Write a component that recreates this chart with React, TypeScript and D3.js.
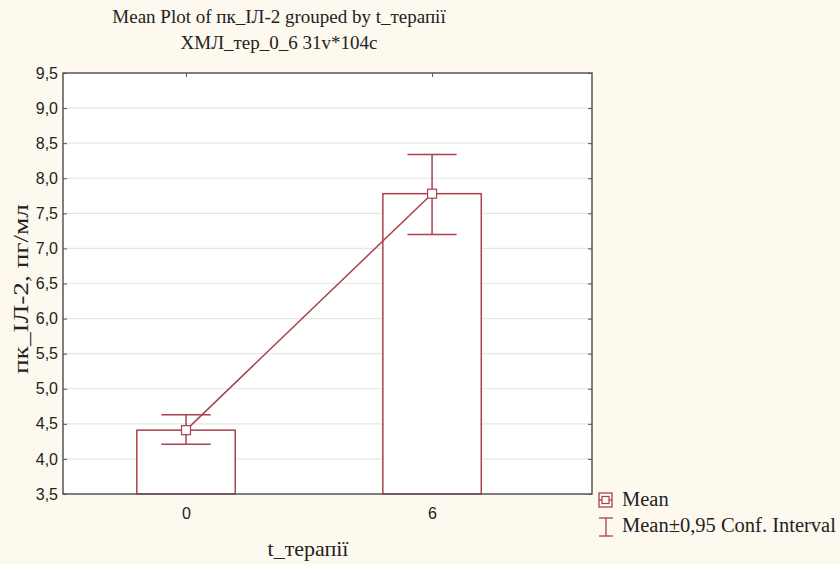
import * as d3 from 'd3';
import React, { useRef, useEffect } from 'react';

// data
const categories = ['0', '6'];
const means = [4.41, 7.78];
const ciLower = [4.21, 7.2];
const ciUpper = [4.63, 8.34];
const yTicks = [3.5, 4.0, 4.5, 5.0, 5.5, 6.0, 6.5, 7.0, 7.5, 8.0, 8.5, 9.0, 9.5];

const RED = '#a8424c';
const BG = '#fdf9ef';

function MeanPlot({ width, height }) {
    const ref = useRef(null);

    useEffect(() => {
        draw();
    }, []);

    const draw = () => {
        const margin = { top: 73, right: 248, bottom: 70, left: 63 };
        const w = width - margin.left - margin.right;
        const h = height - margin.top - margin.bottom;

        const svg = d3.select(ref.current);
        svg.selectAll('*').remove();

        svg.append('rect')
            .attr('width', width)
            .attr('height', height)
            .attr('fill', BG);

        const g = svg.append('g')
            .attr('transform', `translate(${margin.left}, ${margin.top})`);

        // Scales
        const xScale = d3.scaleLinear()
            .domain([-0.5, 1.65])
            .range([0, w]);

        const yScale = d3.scaleLinear()
            .domain([3.5, 9.5])
            .range([h, 0]);

        const fmt = d => d3.format('.1f')(d).replace('.', ',');
        const sans = '"Liberation Sans", Arial, sans-serif';
        const serif = '"Liberation Serif", "Times New Roman", serif';

        g.append('rect')
            .attr('width', w)
            .attr('height', h)
            .attr('fill', '#fff');

        // grid
        g.append('g')
            .selectAll('line')
            .data(yTicks.slice(1, -1))
            .enter()
            .append('line')
            .attr('x1', 0)
            .attr('x2', w)
            .attr('y1', d => yScale(d))
            .attr('y2', d => yScale(d))
            .attr('stroke', '#e6e6e6')
            .attr('stroke-width', 1.2);

        // axes
        const yAxis = d3.axisLeft(yScale)
            .tickValues(yTicks)
            .tickFormat(fmt)
            .tickSize(-4)
            .tickPadding(5);
        const yAxisDraw = g.append('g').call(yAxis)
            .attr('font-family', sans)
            .attr('font-size', 16);
        yAxisDraw.select('.domain').remove();
        yAxisDraw.selectAll('text').attr('fill', '#222');
        yAxisDraw.selectAll('line').attr('stroke', '#555');

        const yAxisRight = d3.axisRight(yScale)
            .tickValues(yTicks)
            .tickFormat(() => '')
            .tickSize(-4);
        const yr = g.append('g').attr('transform', `translate(${w},0)`).call(yAxisRight);
        yr.select('.domain').remove();
        yr.selectAll('line').attr('stroke', '#555');

        const xAxis = d3.axisBottom(xScale)
            .tickValues([0, 1])
            .tickFormat(i => categories[i])
            .tickSize(-4)
            .tickPadding(14);
        const xAxisDraw = g.append('g').attr('transform', `translate(0,${h})`).call(xAxis)
            .attr('font-family', sans)
            .attr('font-size', 16);
        xAxisDraw.select('.domain').remove();
        xAxisDraw.selectAll('text').attr('fill', '#222');
        xAxisDraw.selectAll('line').attr('stroke', '#555');

        const xTop = d3.axisTop(xScale)
            .tickValues([0, 1])
            .tickFormat(() => '')
            .tickSize(-4);
        const xt = g.append('g').call(xTop);
        xt.select('.domain').remove();
        xt.selectAll('line').attr('stroke', '#555');

        // bars
        const barW = xScale(0.2) - xScale(-0.2);
        g.selectAll('.bar')
            .data(means)
            .enter()
            .append('rect')
            .attr('class', 'bar')
            .attr('x', (d, i) => xScale(i) - barW / 2)
            .attr('y', d => yScale(d))
            .attr('width', barW)
            .attr('height', d => h - yScale(d))
            .attr('fill', '#fff')
            .attr('stroke', RED)
            .attr('stroke-width', 1.5);

        // error bars
        const capW = xScale(0.1) - xScale(-0.1);
        const err = g.selectAll('.err')
            .data(means.map((m, i) => ({ i, lo: ciLower[i], hi: ciUpper[i] })))
            .enter()
            .append('g')
            .attr('stroke', RED)
            .attr('stroke-width', 1.5);
        err.append('line')
            .attr('x1', d => xScale(d.i)).attr('x2', d => xScale(d.i))
            .attr('y1', d => yScale(d.lo)).attr('y2', d => yScale(d.hi));
        err.append('line')
            .attr('x1', d => xScale(d.i) - capW / 2).attr('x2', d => xScale(d.i) + capW / 2)
            .attr('y1', d => yScale(d.lo)).attr('y2', d => yScale(d.lo));
        err.append('line')
            .attr('x1', d => xScale(d.i) - capW / 2).attr('x2', d => xScale(d.i) + capW / 2)
            .attr('y1', d => yScale(d.hi)).attr('y2', d => yScale(d.hi));

        // mean line
        const line = d3.line()
            .x((d, i) => xScale(i))
            .y(d => yScale(d));
        g.append('path')
            .datum(means)
            .attr('d', line)
            .attr('fill', 'none')
            .attr('stroke', RED)
            .attr('stroke-width', 1.5);

        g.selectAll('.marker')
            .data(means)
            .enter()
            .append('rect')
            .attr('x', (d, i) => xScale(i) - 4.5)
            .attr('y', d => yScale(d) - 4.5)
            .attr('width', 9)
            .attr('height', 9)
            .attr('fill', '#fff')
            .attr('stroke', RED)
            .attr('stroke-width', 1.2);

        // frame
        g.append('rect')
            .attr('width', w)
            .attr('height', h)
            .attr('fill', 'none')
            .attr('stroke', '#555')
            .attr('stroke-width', 1.5);

        // titles
        svg.append('text')
            .attr('x', 279)
            .attr('y', 23)
            .attr('text-anchor', 'middle')
            .attr('font-family', serif)
            .attr('font-size', 19)
            .attr('fill', '#222')
            .text('Mean Plot of пк_ІЛ-2 grouped by  t_терапії');
        svg.append('text')
            .attr('x', 279)
            .attr('y', 49)
            .attr('text-anchor', 'middle')
            .attr('font-family', serif)
            .attr('font-size', 19)
            .attr('fill', '#222')
            .text('ХМЛ_тер_0_6 31v*104c');

        svg.append('text')
            .attr('transform', `translate(28, 289) rotate(-90)`)
            .attr('text-anchor', 'middle')
            .attr('font-family', serif)
            .attr('font-size', 22)
            .attr('textLength', 170)
            .attr('lengthAdjust', 'spacingAndGlyphs')
            .attr('fill', '#222')
            .text('пк_ІЛ-2, пг/мл');

        svg.append('text')
            .attr('x', 308)
            .attr('y', 556)
            .attr('text-anchor', 'middle')
            .attr('font-family', serif)
            .attr('font-size', 22)
            .attr('fill', '#222')
            .text('t_терапії');

        // legend
        const leg = svg.append('g').attr('transform', 'translate(599, 493)');
        leg.append('rect')
            .attr('width', 13).attr('height', 14)
            .attr('fill', 'none').attr('stroke', RED).attr('stroke-width', 1.3);
        leg.append('line')
            .attr('x1', 0).attr('x2', 13).attr('y1', 7).attr('y2', 7)
            .attr('stroke', RED).attr('stroke-width', 1.3);
        leg.append('rect')
            .attr('x', 3).attr('y', 3.5).attr('width', 7).attr('height', 7)
            .attr('fill', '#fff').attr('stroke', RED).attr('stroke-width', 1.2);
        leg.append('text')
            .attr('x', 23).attr('y', 13)
            .attr('font-family', serif).attr('font-size', 20.5).attr('fill', '#222')
            .text('Mean');

        const le = svg.append('g').attr('transform', 'translate(599, 518)')
            .attr('stroke', RED).attr('stroke-width', 1.3);
        le.append('line').attr('x1', 0).attr('x2', 14).attr('y1', 0).attr('y2', 0);
        le.append('line').attr('x1', 0).attr('x2', 14).attr('y1', 18).attr('y2', 18);
        le.append('line').attr('x1', 7).attr('x2', 7).attr('y1', 0).attr('y2', 18);
        svg.append('text')
            .attr('x', 622).attr('y', 532)
            .attr('font-family', serif).attr('font-size', 20.5).attr('fill', '#222')
            .text('Mean±0,95 Conf. Interval');
    };

    return <svg ref={ref} width={width} height={height} style={{ display: 'block' }} />;
}

export default function App() {
    return (
        <div style={{ position: 'fixed', left: 0, top: 0 }}>
            <MeanPlot width={840} height={564} />
        </div>
    );
}
